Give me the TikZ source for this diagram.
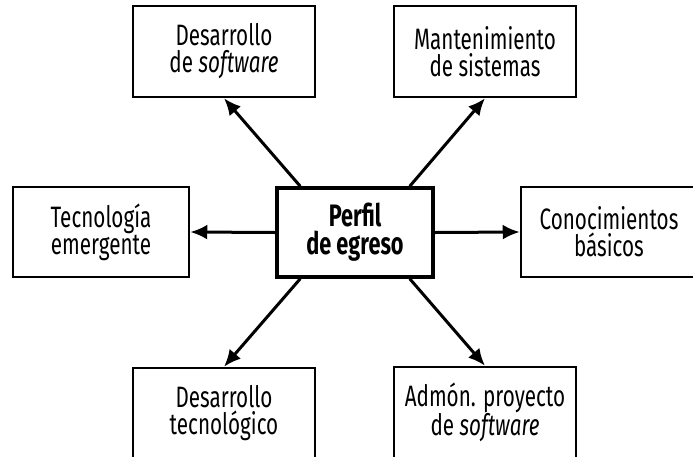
\documentclass[tikz,border=0pt]{standalone}
\usepackage{fontspec}
\setmainfont{Fira Sans}[FakeStretch=0.7]
\usetikzlibrary{arrows.meta,calc}
\tikzset{
  box/.style={draw=black, line width=2.5pt, fill=white, minimum width=182pt, minimum height=91pt,
    inner sep=0pt, align=center, font=\fontsize{29.5}{27}\selectfont},
  centerbox/.style={box, line width=3.5pt, minimum width=156pt, minimum height=89pt,
    font=\fontsize{31}{28}\selectfont\bfseries},
  link/.style={line width=3pt, -{Latex[length=17pt,width=15pt]}}
}
\begin{document}
\begin{tikzpicture}[x=1pt,y=-1pt]
\useasboundingbox (0,0) rectangle (693,456);
\node[centerbox] (C) at (355,232.5) {Perfil\\de egreso};
\node[box] (TL) at (224,51.5) {Desarrollo\\de \textit{software}};
\node[box] (TR) at (485,51.5) {Mantenimiento\\de sistemas};
\node[box, minimum width=176pt, minimum height=90pt] (L) at (101,232) {Tecnología\\emergente};
\node[box, minimum width=176pt, minimum height=90pt] (R) at (609,232) {Conocimientos\\básicos};
\node[box] (BL) at (224,413.5) {Desarrollo\\tecnológico};
\node[box] (BR) at (485,412.5) {Admón. proyecto\\de \textit{software}};
\draw[link] ($(C.north west)+(25,0)$) -- (TL.south);
\draw[link] ($(C.north east)+(-25,0)$) -- (TR.south);
\draw[link] ($(C.south west)+(25,0)$) -- (BL.north);
\draw[link] ($(C.south east)+(-25,0)$) -- (BR.north);
\draw[link] (C.west) -- (L.east);
\draw[link] (C.east) -- (R.west);
\end{tikzpicture}
\end{document}
